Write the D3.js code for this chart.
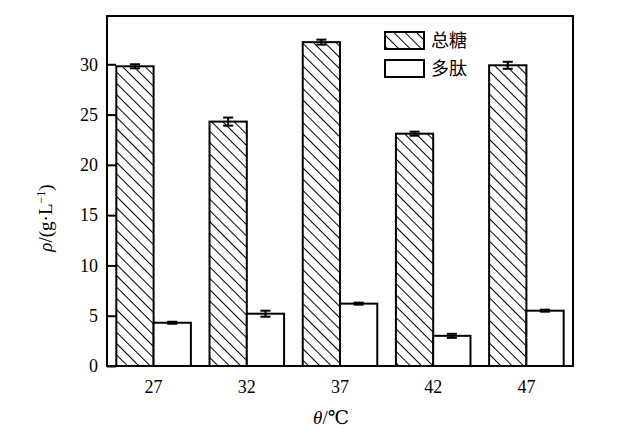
<!DOCTYPE html>
<html><head><meta charset="utf-8">
<script src="https://cdn.jsdelivr.net/npm/d3@7"></script>
<style>body{margin:0;background:#fff}svg{display:block}
.sf{font-family:"Liberation Serif","Times New Roman","DejaVu Serif",serif}
.cj{font-family:"Noto Sans CJK SC",sans-serif}
</style>
</head><body>
<script>
const categories = ["27","32","37","42","47"];
const sugar = [29.8, 24.3, 32.2, 23.1, 29.9];
const sugarErr = [0.2, 0.4, 0.25, 0.2, 0.35];
const peptide = [4.3, 5.2, 6.2, 3.0, 5.5];
const peptideErr = [0.1, 0.3, 0.1, 0.2, 0.1];
const yTicks = [0,5,10,15,20,25,30];
const seriesNames = ["总糖","多肽"];

const W=636,H=439;
const m={l:107,r:573,t:16,b:366};
const svg=d3.select("body").append("svg").attr("width",W).attr("height",H);
const defs=svg.append("defs");
const pat=defs.append("pattern").attr("id","hatch").attr("patternUnits","userSpaceOnUse")
  .attr("width",8).attr("height",8).attr("patternTransform","rotate(45)");
pat.append("line").attr("x1",0).attr("y1",0).attr("x2",8).attr("y2",0)
  .attr("stroke","#000").attr("stroke-width",2);

const x=d3.scaleBand().domain(categories).range([m.l,m.r]).paddingInner(0.2).paddingOuter(0.1);
const y=d3.scaleLinear().domain([0,34.8]).range([m.b,m.t]);
const bw=x.bandwidth()/2;

// bars
categories.forEach((c,i)=>{
  const x0=x(c);
  svg.append("rect").attr("x",x0).attr("y",y(sugar[i])).attr("width",bw).attr("height",y(0)-y(sugar[i]))
    .attr("fill","url(#hatch)").attr("stroke","#000").attr("stroke-width",2);
  svg.append("rect").attr("x",x0+bw).attr("y",y(peptide[i])).attr("width",bw).attr("height",y(0)-y(peptide[i]))
    .attr("fill","#fff").attr("stroke","#000").attr("stroke-width",2);
  [[sugar[i],sugarErr[i],x0+bw/2],[peptide[i],peptideErr[i],x0+1.5*bw]].forEach(([v,e,cx])=>{
    const g=svg.append("g").attr("stroke","#000").attr("stroke-width",2);
    g.append("line").attr("x1",cx).attr("x2",cx).attr("y1",y(v-e)).attr("y2",y(v+e));
    g.append("line").attr("x1",cx-5).attr("x2",cx+5).attr("y1",y(v+e)).attr("y2",y(v+e));
    g.append("line").attr("x1",cx-5).attr("x2",cx+5).attr("y1",y(v-e)).attr("y2",y(v-e));
  });
});

// frame
svg.append("rect").attr("x",m.l).attr("y",m.t).attr("width",m.r-m.l).attr("height",m.b-m.t)
  .attr("fill","none").attr("stroke","#000").attr("stroke-width",2);

// y axis
const ya=svg.append("g").attr("transform",`translate(${m.l},0)`)
  .call(d3.axisLeft(y).tickValues(yTicks).tickSizeInner(-9).tickSizeOuter(0).tickPadding(10));
ya.attr("font-family",null).attr("font-size",null);
ya.select(".domain").remove();
ya.selectAll(".tick line").attr("stroke-width",2);
ya.selectAll("text").attr("class","sf").attr("x",-9).style("font-size","18px").attr("fill","#000");

// x axis
const xa=svg.append("g").attr("transform",`translate(0,${m.b})`)
  .call(d3.axisBottom(x).tickSize(0).tickPadding(14));
xa.attr("font-family",null).attr("font-size",null);
xa.select(".domain").remove();
xa.selectAll("text").attr("class","sf").style("font-size","18px").attr("fill","#000");

// axis titles
const xt=svg.append("text").attr("class","sf").attr("x",331).attr("y",424).attr("text-anchor","middle")
  .style("font-size","19px");
xt.append("tspan").attr("font-style","italic").text("θ");
xt.append("tspan").text("/℃");

const yt=svg.append("text").attr("class","sf").attr("transform","translate(52,218) rotate(-90)").attr("text-anchor","middle")
  .style("font-size","19px");
yt.append("tspan").attr("font-style","italic").text("ρ");
yt.append("tspan").text("/(g·L");
yt.append("tspan").style("font-size","12px").attr("dy",-7).text("−1");
yt.append("tspan").attr("dy",7).text(")");

// legend
const lg=svg.append("g");
[["url(#hatch)",32],["#fff",60]].forEach(([f,yy],i)=>{
  lg.append("rect").attr("x",385).attr("y",yy).attr("width",39).attr("height",17)
    .attr("fill",f).attr("stroke","#000").attr("stroke-width",2);
  lg.append("text").attr("class","cj").attr("x",431).attr("y",yy+15).style("font-size","18px")
    .text(seriesNames[i]);
});
</script>
</body></html>
